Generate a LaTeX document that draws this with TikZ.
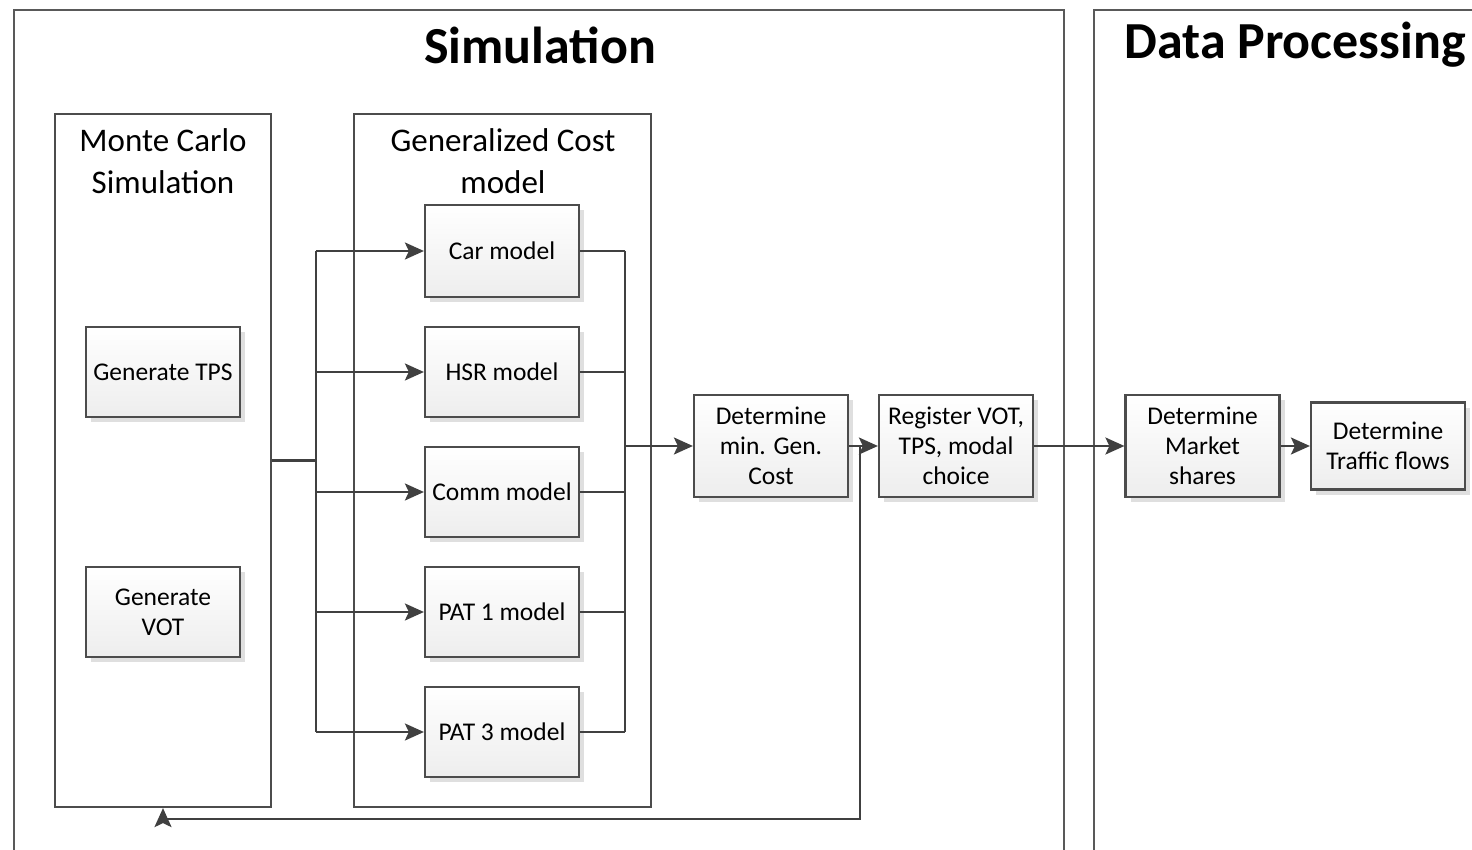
\documentclass[tikz,border=0pt]{standalone}
\usepackage{fontspec}
\setmainfont{Carlito}
\usetikzlibrary{arrows.meta,shadows,positioning}

\tikzset{
  line/.style={draw=black!75, line width=2.2pt},
  arr/.style={line, -{Stealth[length=19pt,width=17pt,inset=4pt]}},
  frame/.style={draw=black!65, line width=2pt},
  proc/.style={draw=black!70, line width=2.2pt, top color=white, bottom color=black!7,
    minimum width=154pt, minimum height=90pt, inner sep=2pt, align=center,
    text=black, font=\fontsize{25.5}{30}\selectfont,
    drop shadow={shadow xshift=5pt, shadow yshift=-5pt, fill=black!18, opacity=0.7}},
  group/.style={draw=black!70, line width=2.2pt, inner sep=0pt},
  grouptitle/.style={align=center, text=black, font=\fontsize{33}{42}\selectfont},
  maintitle/.style={text=black, font=\bfseries\fontsize{52}{60}\selectfont},
}

\begin{document}
\begin{tikzpicture}[x=1pt, y=-1pt]
\useasboundingbox (0,0) rectangle (1472,850);

% outer sections
\draw[frame] (14,852) -- (14,10) -- (1064,10) -- (1064,852);
\draw[frame] (1094,852) -- (1094,10) -- (1474,10);
\node[maintitle] (simtitle) at (540,45) {Simulation};
\node[maintitle, anchor=west] (dptitle) at (1121,45) {Data Processing};

% group containers
\node[group, minimum width=216pt, minimum height=693pt] (mc) at (163,460.5) {};
\node[group, minimum width=297pt, minimum height=693pt] (gc) at (502.5,460.5) {};
\node[grouptitle] (mctitle) at (163,161) {Monte Carlo\\Simulation};
\node[grouptitle] (gctitle) at (503,161) {Generalized Cost\\model};

% Monte Carlo steps
\node[proc] (tps) at (163,372) {Generate TPS};
\node[proc] (vot) at (163,612) {Generate\\VOT};

% mode models
\node[proc, minimum height=92pt] (car) at (502,251) {Car model};
\node[proc] (hsr) at (502,372) {HSR model};
\node[proc] (comm) at (502,492) {Comm model};
\node[proc] (pat1) at (502,612) {PAT 1 model};
\node[proc] (pat3) at (502,732) {PAT 3 model};

% downstream steps
\node[proc, minimum height=102pt] (dmin) at (771,446) {Determine\\min. Gen.\\Cost};
\node[proc, minimum height=102pt] (reg) at (956,446) {Register VOT,\\TPS, modal\\choice};
\node[proc, minimum height=102pt] (mkt) at (1202.5,446) {Determine\\Market\\shares};
\node[proc, minimum height=87pt] (trf) at (1388,446) {Determine\\Traffic flows};

% distribution bus into the models
\coordinate (bl) at (316,0);
\draw[line] (mc.east) -- (bl |- mc.east);
\draw[line] (bl |- car.west) -- (bl |- pat3.west);
\foreach \m in {car,hsr,comm,pat1,pat3}
  \draw[arr] (bl |- \m.west) -- (\m.west);

% collection bus out of the models
\coordinate (br) at (625,0);
\foreach \m in {car,hsr,comm,pat1,pat3}
  \draw[line] (\m.east) -- (br |- \m.east);
\draw[line] (br |- car.east) -- (br |- pat3.east);
\draw[arr] (br |- dmin.west) -- (dmin.west);

% main chain
\draw[arr] (dmin.east) -- (reg.west);
\draw[arr] (reg.east) -- (mkt.west);
\draw[arr] (mkt.east) -- (trf.west);

% feedback loop to the Monte Carlo simulation
\coordinate (fb) at (860,819);
\draw[arr] (fb |- dmin.east) -- (fb) -- (fb -| mc.south) -- (mc.south);
\end{tikzpicture}
\end{document}
